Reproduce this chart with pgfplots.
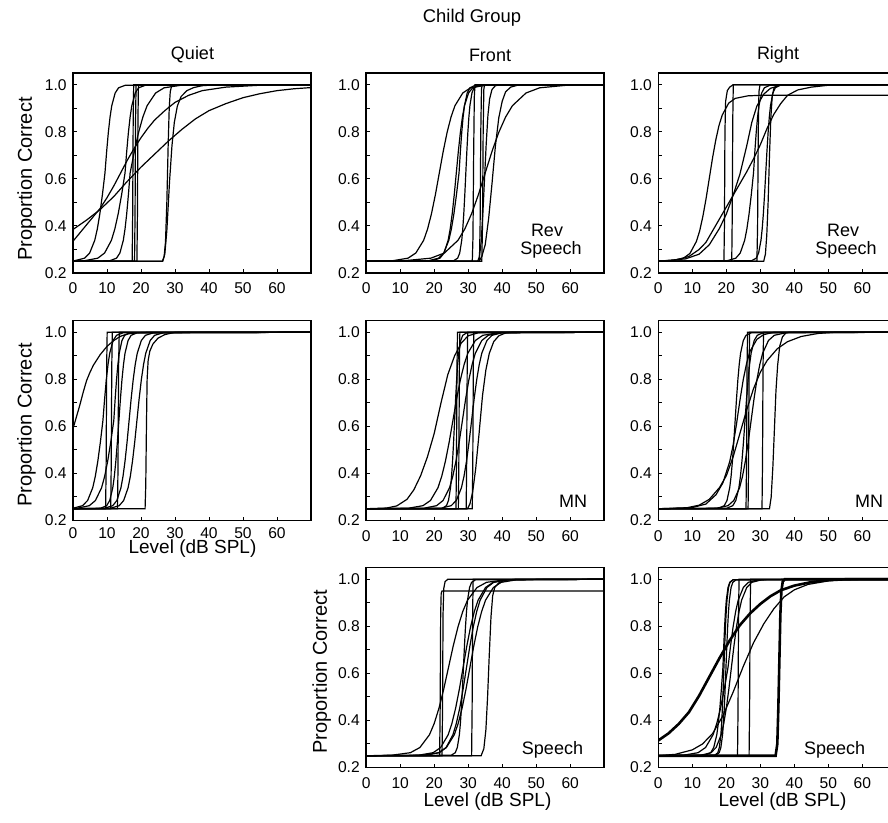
\documentclass[border=0pt]{standalone}
\usepackage{fontspec}
\setmainfont{Liberation Sans}
\usepackage{pgfplots}
\usepackage{pgfplotstable}
\pgfplotsset{compat=1.18}
\tikzset{c/.style={black, line width=0.6pt}, ck/.style={black, line width=1.3pt}}
\pgfplotsset{
  panel/.style={
    scale only axis, width=119pt, height=100pt,
    anchor=north west,
    xmin=0, xmax=70, ymin=0.2, ymax=1.05,
    xtick={0,10,20,30,40,50,60},
    ytick={0.2,0.4,0.6,0.8,1.0},
    minor ytick={0.3,0.5,0.7,0.9},
    tick pos=left,
    tick align=inside,
    major tick length=2pt, minor tick length=2pt,
    every tick/.style={black, line width=0.5pt},
    axis line style={line width=0.8pt},
    ticklabel style={font=\fontsize{7.8}{8}\selectfont},
    xticklabel style={yshift=-1.5pt},
    yticklabel style={xshift=0.3pt, /pgf/number format/fixed, /pgf/number format/fixed zerofill, /pgf/number format/precision=1},
    /pgf/number format/assume math mode=true,
  },
}
% logistic-shaped curves: x positions for the shared y levels
\pgfplotstableread{
y     qa    qb    qc
0.25  0     0     0
0.252 0.4   3.3   10.8
0.263 3.4   7.3   12.8
0.285 4.9   9.3   13.8
0.339 6.4   11.3  14.8
0.387 7.15  12.3  15.3
0.452 7.9   13.3  15.8
0.533 8.65  14.3  16.3
0.625 9.4   15.3  16.8
0.717 9.9   15.8  18.05
0.798 10.4  16.3  19.3
0.863 10.9  16.8  20.55
0.911 11.4  17.3  21.8
0.965 12.4  18.3  24.3
0.987 13.4  19.3  26.8
0.998 15.4  21.3  31.8
1.0   70    70    70
}\tQ
\pgfplotstableread{
y     fa    fb    fc    fd    fe
0.25  0     0     0     0     0
0.252 7.7   11    18.3  25.7  19.3
0.263 12.3  19    21.3  26.9  21.7
0.285 14.6  23    22.8  27.5  22.9
0.339 16.9  27    24.3  28.1  24.1
0.387 18.05 29    25.05 28.4  24.7
0.452 19.2  31    25.8  28.7  25.3
0.533 20.35 33    26.55 29.0  25.9
0.625 21.5  35    27.3  29.3  26.5
0.717 22.65 37    27.7  29.6  27.1
0.798 23.8  39    28.1  29.9  27.7
0.863 24.95 41    28.5  30.2  28.3
0.911 26.1  43    28.9  30.5  28.9
0.965 28.4  47    29.7  31.1  30.1
0.987 30.7  51    30.5  31.7  31.3
0.998 35.3  59    32.1  32.9  33.7
1.0   70    70    70    70    70
}\tF
\pgfplotstableread{
y     ra    rb
0.25  0     0
0.252 20.2  27.4
0.263 22.8  28.8
0.285 24.1  29.5
0.339 25.4  30.2
0.387 26.05 30.55
0.452 26.7  30.9
0.533 27.35 31.25
0.625 28    31.6
0.717 28.4  31.95
0.798 28.8  32.3
0.863 29.2  32.65
0.911 29.6  33.0
0.965 30.4  33.7
0.987 31.2  34.4
0.998 32.8  35.8
1.0   70    70
}\tR
\pgfplotstableread{
y     ma    mb    mc    md    me
0.25  0     0     0     0     0
0.252 0.0   1.2   8.1   11.0  9.3
0.263 2.8   4.8   9.9   13.6  11.7
0.285 4.3   6.6   10.8  14.9  12.9
0.339 5.8   8.4   11.7  16.2  14.1
0.387 6.55  9.3   12.15 16.85 14.7
0.452 7.3   10.2  12.6  17.5  15.3
0.533 8.05  11.1  13.05 18.15 15.9
0.625 8.8   12    13.5  18.8  16.5
0.717 9.3   12.4  13.95 19.45 17.1
0.798 9.8   12.8  14.4  20.1  17.7
0.863 10.3  13.2  14.85 20.75 18.3
0.911 10.8  13.6  15.3  21.4  18.9
0.965 11.8  14.4  16.2  22.7  20.1
0.987 12.8  15.2  17.1  24.0  21.3
0.998 14.8  16.8  18.9  26.6  23.7
1.0   70    70    70    70    70
}\tQM
\pgfplotstableread{
y     ga    gb    gc    gd
0.25  0     0     0     0
0.252 12.3  16.9  22    22.4
0.263 16.7  20.7  25    23.6
0.285 18.9  22.6  26.5  24.2
0.339 21.1  24.5  28    24.8
0.387 22.2  25.45 28.75 25.1
0.452 23.3  26.4  29.5  25.4
0.533 24.4  27.35 30.25 25.7
0.625 25.5  28.3  31    26
0.717 26.6  29.25 31.75 26.3
0.798 27.7  30.2  32.5  26.6
0.863 28.8  31.15 33.25 26.9
0.911 29.9  32.1  34    27.2
0.965 32.1  34.0  35.5  27.8
0.987 34.3  35.9  37    28.4
0.998 38.7  39.7  40    29.6
1.0   70    70    70    70
}\tFM
\pgfplotstableread{
y     ha    hb    hc
0.25  0     0     0
0.252 17.8  17.1  20.1
0.263 19.4  20.5  21.9
0.285 20.2  22.2  22.8
0.339 21.0  23.9  23.7
0.387 21.4  24.75 24.15
0.452 21.8  25.6  24.6
0.533 22.2  26.45 25.05
0.625 22.6  27.3  25.5
0.717 23.0  28.15 25.95
0.798 23.4  29.0  26.4
0.863 23.8  29.85 26.85
0.911 24.2  30.7  27.3
0.965 25.0  32.4  28.2
0.987 25.8  34.1  29.1
0.998 27.4  37.5  30.9
1.0   70    70    70
}\tRM
\pgfplotstableread{
y     sa    sb    sc    sd    se
0.25  0     0     0     0     0
0.252 7.4   25.0  17.5  15.3  16.7
0.263 13.0  26.2  21.5  19.7  21.3
0.285 15.8  26.8  23.5  21.9  23.6
0.339 18.6  27.4  25.5  24.1  25.9
0.387 20.0  27.7  26.5  25.2  27.05
0.452 21.4  28.0  27.5  26.3  28.2
0.533 22.8  28.3  28.5  27.4  29.35
0.625 24.2  28.6  29.5  28.5  30.5
0.717 25.6  28.9  30.5  29.6  31.65
0.798 27.0  29.2  31.5  30.7  32.8
0.863 28.4  29.5  32.5  31.8  33.95
0.911 29.8  29.8  33.5  32.9  35.1
0.965 32.6  30.4  35.5  35.1  37.4
0.987 35.4  31.0  37.5  37.3  39.7
0.998 41.0  32.2  41.5  41.7  44.3
1.0   70    70    70    70    70
}\tSF
\pgfplotstableread{
y     ta    tb    tc    td    te
0.25  0     0     0     0     0
0.252 7.3   16.6  16.9  13.6  12.5
0.263 11.7  17.5  17.9  15.4  15.5
0.285 13.9  17.95 18.4  16.3  17.0
0.339 16.1  18.4  18.9  17.2  18.5
0.387 17.2  18.63 19.15 17.65 19.25
0.452 18.3  18.85 19.4  18.1  20.0
0.533 19.4  19.08 19.65 18.55 20.75
0.625 20.5  19.3  19.9  19.0  21.5
0.717 21.25 19.53 20.15 19.25 22.25
0.798 22.0  19.75 20.4  19.5  23.0
0.863 22.75 19.98 20.65 19.75 23.75
0.911 23.5  20.2  20.9  20.0  24.5
0.965 25.0  20.65 21.4  20.5  26.0
0.987 26.5  21.1  21.9  21.0  27.5
0.998 29.5  22.0  22.9  22.0  30.5
1.0   70    70    70    70    70
}\tSR
\begin{document}
\begin{tikzpicture}
\useasboundingbox (0,0) rectangle (444pt,-411.5pt);
\clip (0,0) rectangle (444pt,-411.5pt);
% ---------------- Row 1: Quiet ----------------
\begin{axis}[panel, at={(36.5pt,-36.5pt)}]
\addplot[c] coordinates {(0,0.385)(4,0.425)(8,0.47)(12,0.525)(16,0.59)(20,0.65)(24,0.705)(28,0.76)(32,0.81)(36,0.855)(40,0.89)(45,0.92)(50,0.945)(55,0.962)(60,0.975)(65,0.983)(70,0.988)};
\addplot[c] coordinates {(0,0.335)(2,0.37)(4,0.405)(6,0.44)(8,0.475)(10,0.52)(12,0.57)(14,0.625)(16,0.68)(18,0.73)(20,0.775)(22,0.815)(24,0.85)(27,0.89)(30,0.925)(34,0.955)(38,0.975)(45,0.99)(55,0.998)(70,1.0)};
\addplot[c] table[x=qa,y=y] {\tQ};
\addplot[c] table[x=qb,y=y] {\tQ};
\addplot[c] table[x=qc,y=y] {\tQ};
\addplot[c] coordinates {(0,0.25)(17.4,0.25)(17.55,0.45)(17.7,0.85)(17.85,1.0)(70,1.0)};
\addplot[c] coordinates {(0,0.25)(18.1,0.25)(18.25,0.45)(18.4,0.85)(18.55,1.0)(70,1.0)};
\addplot[c] coordinates {(0,0.25)(18.8,0.25)(18.95,0.45)(19.1,0.85)(19.25,1.0)(70,1.0)};
\addplot[c] coordinates {(0,0.25)(26.3,0.25)(26.8,0.27)(27.2,0.33)(27.6,0.5)(28.0,0.75)(28.3,0.9)(28.6,0.97)(29.0,0.995)(29.5,1.0)(70,1.0)};
\addplot[c] coordinates {(0,0.25)(26.4,0.25)(27,0.28)(27.6,0.38)(28.4,0.59)(29.1,0.74)(29.8,0.84)(30.7,0.91)(31.8,0.95)(33.5,0.975)(35.5,0.988)(38,0.996)(42,1.0)(70,1.0)};
\end{axis}
% ---------------- Row 1: Front, Rev Speech ----------------
\begin{axis}[panel, at={(183.1pt,-36.5pt)}]
\addplot[c] table[x=fa,y=y] {\tF};
\addplot[c] table[x=fb,y=y] {\tF};
\addplot[c] table[x=fc,y=y] {\tF};
\addplot[c] table[x=fd,y=y] {\tF};
\addplot[c] table[x=fe,y=y] {\tF};
\addplot[c] coordinates {(0,0.25)(31.2,0.25)(31.4,0.35)(31.6,0.7)(31.8,0.95)(32.0,1.0)(70,1.0)};
\addplot[c] coordinates {(0,0.25)(33.3,0.25)(33.5,0.4)(33.7,0.8)(33.9,0.98)(34.1,1.0)(70,1.0)};
\addplot[c] coordinates {(0,0.25)(34.0,0.25)(34.2,0.4)(34.4,0.8)(34.6,0.98)(34.8,1.0)(70,1.0)};
\addplot[c] coordinates {(0,0.25)(32.8,0.25)(33.3,0.27)(33.8,0.33)(34.3,0.45)(34.8,0.6)(35.3,0.75)(35.8,0.87)(36.3,0.94)(37,0.98)(38,0.996)(39.5,1.0)(70,1.0)};
\addplot[c] coordinates {(0,0.25)(33.2,0.25)(34,0.27)(35,0.32)(36,0.43)(37,0.58)(38,0.74)(39,0.86)(40,0.93)(41,0.97)(42.5,0.99)(45,1.0)(70,1.0)};
\end{axis}
% ---------------- Row 1: Right, Rev Speech ----------------
\begin{axis}[panel, at={(329.15pt,-36.5pt)}]
\addplot[c] coordinates {(0,0.25)(3.6,0.252)(7.4,0.263)(9.3,0.283)(11.2,0.334)(12.15,0.378)(13.1,0.44)(14.05,0.516)(15,0.6025)(15.95,0.689)(16.9,0.765)(17.85,0.827)(18.8,0.871)(20.7,0.922)(22.6,0.942)(26.4,0.953)(30,0.955)(70,0.955)};
\addplot[c] coordinates {(0,0.25)(19.3,0.25)(19.45,0.4)(19.6,0.8)(19.8,0.93)(20.3,0.975)(21,0.99)(22,1.0)(70,1.0)};
\addplot[c] coordinates {(0,0.25)(21.6,0.25)(21.75,0.45)(21.9,0.85)(22.05,1.0)(70,1.0)};
\addplot[c] coordinates {(0,0.25)(5,0.255)(9,0.27)(12,0.3)(14,0.33)(16,0.38)(18,0.43)(20,0.48)(22,0.53)(24,0.58)(26,0.63)(28,0.685)(30,0.745)(32,0.815)(34,0.875)(36,0.92)(38,0.955)(41,0.978)(45,0.99)(50,0.998)(70,1.0)};
\addplot[c] coordinates {(0,0.25)(8,0.26)(12,0.28)(15,0.32)(18,0.39)(20,0.45)(22,0.53)(24,0.62)(26,0.74)(27.5,0.84)(29,0.91)(31,0.96)(33,0.985)(36,0.998)(40,1.0)(70,1.0)};
\addplot[c] table[x=ra,y=y] {\tR};
\addplot[c] table[x=rb,y=y] {\tR};
\addplot[c] coordinates {(0,0.25)(29.0,0.25)(29.2,0.4)(29.4,0.8)(29.6,0.97)(29.9,1.0)(70,1.0)};
\addplot[c] coordinates {(0,0.25)(31.0,0.25)(31.5,0.28)(31.9,0.36)(32.3,0.5)(32.7,0.7)(33.1,0.86)(33.5,0.95)(34,0.985)(35,1.0)(70,1.0)};
\end{axis}
% ---------------- Row 2: Quiet MN ----------------
\begin{axis}[panel, at={(36.5pt,-160.25pt)}, xticklabel style={yshift=1.5pt}]
\addplot[c] coordinates {(0,0.59)(1,0.64)(2,0.69)(3,0.745)(4,0.795)(5,0.83)(6,0.86)(8,0.905)(10,0.94)(12,0.965)(14,0.983)(16,0.993)(19,0.998)(22,1.0)(70,1.0)};
\addplot[c] table[x=ma,y=y] {\tQM};
\addplot[c] table[x=mb,y=y] {\tQM};
\addplot[c] table[x=mc,y=y] {\tQM};
\addplot[c] table[x=md,y=y] {\tQM};
\addplot[c] table[x=me,y=y] {\tQM};
\addplot[c] coordinates {(0,0.25)(9.6,0.25)(9.75,0.45)(9.9,0.85)(10.05,1.0)(70,1.0)};
\addplot[c] coordinates {(0,0.25)(11.1,0.25)(11.25,0.45)(11.4,0.85)(11.55,1.0)(70,1.0)};
\addplot[c] coordinates {(0,0.25)(13.1,0.25)(13.25,0.45)(13.4,0.85)(13.6,1.0)(70,1.0)};
\addplot[c] coordinates {(0,0.25)(21.2,0.25)(21.4,0.35)(21.6,0.6)(21.8,0.8)(22.1,0.88)(22.6,0.92)(23.5,0.95)(25,0.975)(27,0.99)(30,1.0)(70,1.0)};
\end{axis}
% ---------------- Row 2: Front MN ----------------
\begin{axis}[panel, at={(183.1pt,-160.25pt)}]
\addplot[c] coordinates {(0,0.25)(6,0.253)(9,0.262)(12,0.29)(14,0.33)(16,0.39)(18,0.47)(20,0.57)(22,0.70)(24,0.82)(26,0.9)(28,0.955)(30,0.985)(33,0.998)(36,1.0)(70,1.0)};
\addplot[c] table[x=ga,y=y] {\tFM};
\addplot[c] table[x=gb,y=y] {\tFM};
\addplot[c] table[x=gc,y=y] {\tFM};
\addplot[c] table[x=gd,y=y] {\tFM};
\addplot[c] coordinates {(0,0.25)(29.8,0.25)(30.5,0.27)(31.3,0.32)(32.2,0.42)(33.2,0.57)(34.2,0.73)(35.2,0.84)(36.2,0.91)(37.5,0.96)(39,0.985)(41,0.997)(43,1.0)(70,1.0)};
\addplot[c] coordinates {(0,0.25)(26.4,0.25)(26.55,0.45)(26.7,0.85)(26.85,1.0)(70,1.0)};
\addplot[c] coordinates {(0,0.25)(27.1,0.25)(27.25,0.45)(27.4,0.85)(27.55,1.0)(70,1.0)};
\addplot[c] coordinates {(0,0.25)(29.4,0.25)(29.55,0.45)(29.7,0.85)(29.85,1.0)(70,1.0)};
\addplot[c] coordinates {(0,0.25)(31.2,0.25)(31.35,0.45)(31.5,0.85)(31.65,1.0)(70,1.0)};
\end{axis}
% ---------------- Row 2: Right MN ----------------
\begin{axis}[panel, at={(329.15pt,-160.25pt)}]
\addplot[c] coordinates {(0,0.25)(8,0.253)(12,0.265)(15,0.29)(18,0.34)(20,0.39)(22,0.47)(24,0.57)(26,0.67)(28,0.76)(30,0.83)(32,0.88)(35,0.93)(38,0.96)(42,0.982)(47,0.995)(52,1.0)(70,1.0)};
\addplot[c] coordinates {(0,0.25)(10,0.255)(14,0.27)(17,0.31)(19,0.36)(21,0.45)(22,0.52)(23,0.61)(24,0.71)(25,0.8)(26,0.87)(27,0.92)(29,0.97)(31,0.99)(34,1.0)(70,1.0)};
\addplot[c] table[x=ha,y=y] {\tRM};
\addplot[c] table[x=hb,y=y] {\tRM};
\addplot[c] table[x=hc,y=y] {\tRM};
\addplot[c] coordinates {(0,0.25)(25.8,0.25)(25.95,0.45)(26.1,0.85)(26.25,1.0)(70,1.0)};
\addplot[c] coordinates {(0,0.25)(26.4,0.25)(26.55,0.45)(26.7,0.85)(26.85,1.0)(70,1.0)};
\addplot[c] coordinates {(0,0.25)(30.5,0.25)(30.65,0.45)(30.8,0.85)(30.95,1.0)(70,1.0)};
\addplot[c] coordinates {(0,0.25)(32.7,0.25)(33.2,0.3)(33.7,0.43)(34.1,0.57)(34.6,0.75)(35.1,0.86)(35.7,0.94)(36.5,0.98)(37.5,0.997)(38.5,1.0)(70,1.0)};
\end{axis}
% ---------------- Row 3: Front Speech ----------------
\begin{axis}[panel, at={(183.1pt,-283.75pt)}]
\addplot[c] table[x=sa,y=y] {\tSF};
\addplot[c] table[x=sb,y=y] {\tSF};
\addplot[c] table[x=sc,y=y] {\tSF};
\addplot[c] table[x=sd,y=y] {\tSF};
\addplot[c] table[x=se,y=y] {\tSF};
\addplot[c] coordinates {(0,0.25)(21.6,0.25)(21.75,0.45)(21.9,0.85)(22.05,0.94)(22.3,0.95)(70,0.95)};
\addplot[c] coordinates {(0,0.25)(22.3,0.25)(22.45,0.45)(22.6,0.85)(22.8,0.96)(23.2,0.99)(24,1.0)(70,1.0)};
\addplot[c] coordinates {(0,0.25)(31.0,0.25)(31.15,0.45)(31.3,0.85)(31.45,1.0)(70,1.0)};
\addplot[c] coordinates {(0,0.25)(33.8,0.25)(34.6,0.28)(35.2,0.36)(35.7,0.5)(36.2,0.68)(36.7,0.84)(37.2,0.93)(37.8,0.965)(39,0.985)(41,0.996)(44,1.0)(70,1.0)};
\end{axis}
% ---------------- Row 3: Right Speech ----------------
\begin{axis}[panel, at={(329.15pt,-283.75pt)}]
\addplot[ck] coordinates {(0,0.315)(3,0.345)(6,0.385)(9,0.435)(12,0.505)(15,0.585)(18,0.665)(21,0.74)(24,0.805)(27,0.855)(30,0.895)(33,0.928)(36,0.953)(40,0.973)(45,0.988)(50,0.996)(55,1.0)(70,1.0)};
\addplot[c] coordinates {(0,0.25)(5,0.256)(10,0.275)(13,0.3)(16,0.345)(19,0.42)(22,0.52)(25,0.63)(28,0.73)(31,0.81)(34,0.875)(37,0.925)(40,0.955)(44,0.978)(50,0.993)(55,1.0)(70,1.0)};
\addplot[c] table[x=ta,y=y] {\tSR};
\addplot[c] table[x=tb,y=y] {\tSR};
\addplot[c] table[x=tc,y=y] {\tSR};
\addplot[c] table[x=td,y=y] {\tSR};
\addplot[c] table[x=te,y=y] {\tSR};
\addplot[c] coordinates {(0,0.25)(23.3,0.25)(23.45,0.45)(23.6,0.85)(23.75,1.0)(70,1.0)};
\addplot[c] coordinates {(0,0.25)(26.7,0.25)(26.85,0.45)(27.0,0.85)(27.15,1.0)(70,1.0)};
\addplot[ck] coordinates {(0,0.25)(34.5,0.25)(35.0,0.3)(35.3,0.45)(35.6,0.65)(35.9,0.85)(36.2,0.95)(36.6,0.99)(37.2,1.0)(70,1.0)};
\end{axis}
% ---------------- Texts ----------------
\node[font=\fontsize{9.2}{10}\selectfont] at (236pt,-9pt) {Child Group};
\node[font=\fontsize{9}{10}\selectfont] at (96.25pt,-27.5pt) {Quiet};
\node[font=\fontsize{9}{10}\selectfont] at (245pt,-27.5pt) {Front};
\node[font=\fontsize{9}{10}\selectfont] at (389pt,-27.5pt) {Right};
\node[font=\fontsize{10}{11}\selectfont, rotate=90] at (13.35pt,-89.5pt) {Proportion Correct};
\node[font=\fontsize{10}{11}\selectfont, rotate=90] at (13.25pt,-212.5pt) {Proportion Correct};
\node[font=\fontsize{10}{11}\selectfont, rotate=90] at (160.85pt,-335.85pt) {Proportion Correct};
\node[font=\fontsize{9.5}{11}\selectfont, inner sep=0pt] at (96.25pt,-274.5pt) {Level (dB SPL)};
\node[font=\fontsize{9.5}{11}\selectfont] at (243.75pt,-401pt) {Level (dB SPL)};
\node[font=\fontsize{9.5}{11}\selectfont] at (391.25pt,-401pt) {Level (dB SPL)};
\node[font=\fontsize{9}{10}\selectfont] at (273.5pt,-115pt) {Rev};
\node[font=\fontsize{9}{10}\selectfont] at (275.5pt,-125pt) {Speech};
\node[font=\fontsize{9}{10}\selectfont] at (421.5pt,-115pt) {Rev};
\node[font=\fontsize{9}{10}\selectfont] at (423pt,-125pt) {Speech};
\node[font=\fontsize{9}{10}\selectfont] at (286.5pt,-250.85pt) {MN};
\node[font=\fontsize{9}{10}\selectfont] at (434.5pt,-250.85pt) {MN};
\node[font=\fontsize{9}{10}\selectfont] at (276.25pt,-375pt) {Speech};
\node[font=\fontsize{9}{10}\selectfont] at (417.35pt,-375pt) {Speech};
\end{tikzpicture}
\end{document}
